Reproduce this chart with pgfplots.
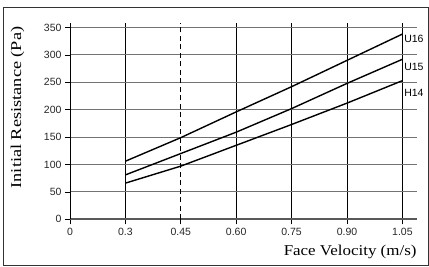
\documentclass[border=0pt]{standalone}
\usepackage{fontspec}
\setmainfont{Liberation Serif}
\newfontfamily\sansf{Liberation Sans}
\newfontfamily\xlabfont[FakeStretch=1.13]{Liberation Serif}
\newfontfamily\ylabfont[FakeStretch=1.22]{Liberation Serif}
\usepackage{pgfplots}
\pgfplotsset{compat=1.18}
\begin{document}
\begin{tikzpicture}
\path (-70pt,219.3pt) rectangle (359pt,-47.7pt);
\draw[black!80, line width=0.9pt] (-66.5pt,211.8pt) rectangle (358pt,-46.2pt);
\begin{axis}[
  at={(0pt,0pt)}, anchor=origin,
  x=55.4pt, y=0.548pt,
  xmin=0, xmax=6.26, ymin=0, ymax=358,
  axis x line=bottom, axis y line=left,
  axis line style={-},
  x axis line style={line width=1.6pt, black!65},
  y axis line style={line width=0.8pt, black},
  xtick={0,1,3,4,5,6},
  xticklabels={0,0.3,0.60,0.75,0.90,1.05},
  extra x ticks={2},
  extra x tick labels={0.45},
  extra x tick style={grid style={dash pattern=on 5pt off 3.5pt}},
  ytick={0,50,...,350},
  xmajorgrids, ymajorgrids,
  x grid style={black, line width=0.7pt},
  y grid style={black!55, line width=1.1pt},
  tick align=outside, major tick length=5pt,
  tick style={black, line width=0.7pt},
  tick label style={font=\sansf\fontsize{10.5}{12}\selectfont, text=black!85},
  /pgf/number format/assume math mode=true,
  clip=false,
]
\addplot[black, line width=1.4pt] coordinates {(1,106)(2,149)(3,196)(4,242)(5,290)(6,338)};
\addplot[black, line width=1.4pt] coordinates {(1,81)(2,120)(3,159)(4,202)(5,248)(6,292)};
\addplot[black, line width=1.4pt] coordinates {(1,66)(2,97)(3,135)(4,173)(5,212)(6,253)};
\node[anchor=west, inner sep=0pt, font=\sansf\fontsize{10.5}{12}\selectfont] at (axis cs:6.03,329) {U16};
\node[anchor=west, inner sep=0pt, font=\sansf\fontsize{10.5}{12}\selectfont] at (axis cs:6.03,278.5) {U15};
\node[anchor=west, inner sep=0pt, font=\sansf\fontsize{10.5}{12}\selectfont] at (axis cs:6.03,231) {H14};
\end{axis}
\node[anchor=base east, inner sep=0pt, font=\xlabfont\fontsize{15}{18}\selectfont] at (346.7pt,-36.4pt) {Face Velocity (m/s)};
\node[rotate=90, inner sep=0pt, font=\ylabfont\fontsize{15}{18}\selectfont] at (-52.5pt,111.8pt) {Initial Resistance (Pa)};
\end{tikzpicture}
\end{document}
